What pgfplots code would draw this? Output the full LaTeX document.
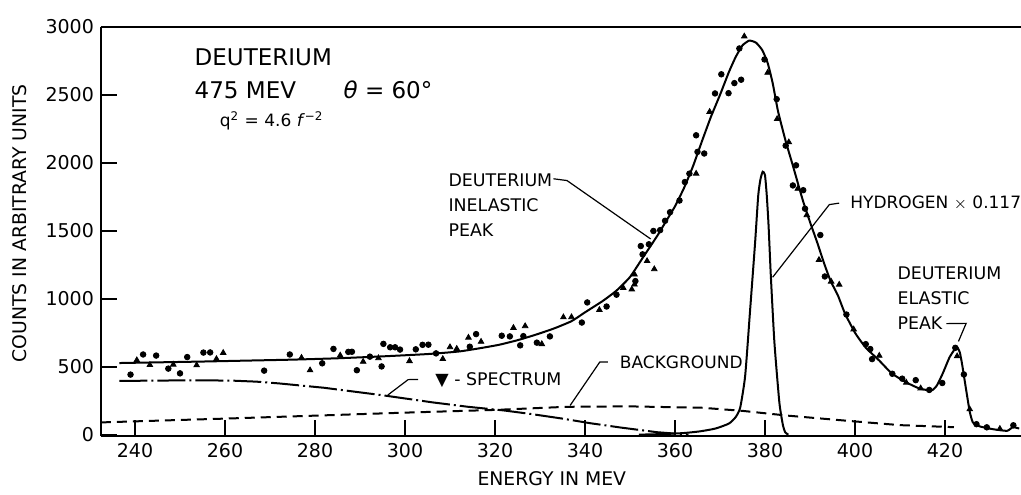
\documentclass[border=0pt]{standalone}
\usepackage{fontspec}
\setmainfont{DejaVu Sans}
\usepackage{pgfplots}
\usepackage{pgfplotstable}
\pgfplotsset{compat=1.18}

\pgfplotstableread{
x y
236.5 527
245 532
255 538
265 545
275 552
285 562
295 576
305 593
312 612
317 638
321 662
325 695
329 735
333 780
337 835
340 900
344 985
347 1060
350 1160
353 1310
356 1460
358 1570
360 1680
362 1815
364 1975
366 2160
368 2340
370 2500
372 2670
373.5 2780
375 2865
376.5 2900
378 2885
379.4 2830
380.6 2735
381.7 2589
382.9 2380
384.6 2160
386.2 1980
387.4 1840
388.5 1715
390 1565
391.6 1415
393.2 1255
394.6 1130
396.2 1025
397.8 890
400.1 745
402.4 640
405.4 545
408.2 450
411.5 383
414.3 340
417 325
418.2 362
419.5 450
421 568
422.2 630
422.8 640
423.3 605
423.8 520
424.7 331
425.5 170
426.2 90
427.8 60
430.7 40
433.8 28
435.1 55
436.5 45
}\fitcurve

\pgfplotstableread{
x y
352 0
358 5
362 12
365.5 24
369 45
372 82
373.5 130
374.5 200
375.6 434
376.7 919
377.8 1411
378.5 1760
379.0 1880
379.5 1935
380.0 1910
380.4 1760
380.8 1537
381.3 1169
382.1 677
383.2 236
384.0 68
384.5 17
385.2 0
}\hydrogen

\pgfplotstableread{
x y
236.5 395
245 398
255 400
262 397
267 390
272 377
282 345
295 290
306 238
314 205
322 178
328 152
335 118
341 85
348 52
356 18
363 0
}\spectrum

\pgfplotstableread{
x y
232.4 90
250 108
260 118
282 142
300 162
320 182
336 205
350 208
366 198
375 175
385 140
399 100
410 70
422 55
}\background

\pgfplotstableread{
x y
239.0 442
241.8 590
244.7 582
247.4 486
250.0 451
251.6 571
255.2 604
256.7 605
268.7 471
274.4 590
281.6 525
284.1 631
287.4 609
288.2 610
289.3 474
292.2 574
295.2 668
296.7 643
297.8 643
298.9 626
294.8 502
302.4 628
303.9 661
305.2 662
306.9 598
314.4 647
315.8 740
321.5 728
323.3 723
325.6 657
326.3 725
329.3 677
332.2 723
339.3 825
340.5 973
344.8 943
347.0 1030
351.2 1130
352.4 1388
352.8 1327
354.2 1401
355.2 1499
356.7 1505
357.8 1574
358.9 1637
361.0 1723
362.2 1859
363.2 1921
365.0 2081
366.5 2069
364.7 2203
368.9 2511
370.3 2652
371.9 2513
373.2 2587
374.7 2612
374.3 2842
379.9 2761
382.6 2469
384.6 2127
386.9 1982
386.2 1834
388.5 1799
388.9 1663
392.3 1469
393.3 1164
398.1 884
403.4 630
403.8 556
402.4 666
408.3 448
410.5 412
413.5 401
416.5 329
419.4 380
422.3 639
424.2 443
427.0 77
429.3 54
435.2 69
}\circles

\pgfplotstableread{
x y
240.4 548
243.3 513
248.5 516
253.7 511
259.6 602
258.1 557
277.0 566
278.9 474
285.6 583
290.7 537
294.1 563
301.0 542
308.4 557
310.0 644
311.5 632
314.1 714
316.9 684
324.1 786
326.7 799
330.4 667
335.2 864
337.0 865
343.2 918
348.5 1080
350.4 1069
351.0 1179
351.0 1105
353.8 1278
355.4 1218
364.7 1921
367.7 2376
375.4 2931
380.6 2664
382.7 2323
385.3 2152
387.3 1810
389.3 1616
392.0 1286
394.7 1127
396.5 1104
399.7 775
405.4 581
411.4 383
414.6 341
422.7 577
425.5 187
432.2 43
}\triangles

\begin{document}
\begin{tikzpicture}
\begin{axis}[
  scale only axis, width=460pt, height=204.5pt,
  xmin=232.44, xmax=436.9, ymin=-10, ymax=3000,
  axis x line=box, axis y line=left,
  axis line style={-, line width=1.3pt, black},
  xtick={240,260,...,420}, ytick={0,500,...,3000},
  xtick pos=left, ytick pos=left, tick align=inside,
  major tick length=8pt,
  major tick style={draw=black, line width=1.1pt},
  ticklabel style={font=\fontsize{9.5}{10}\selectfont},
  /pgf/number format/assume math mode=true,
  /pgf/number format/1000 sep={},
  scaled ticks=false,
  clip=false,
]
\coordinate (SW) at (rel axis cs:0,0);
\coordinate (NE) at (rel axis cs:1,1);

\addplot[black, line width=1pt, dash pattern=on 5pt off 3pt] table {\background};
\addplot[black, line width=1pt, dash pattern=on 14pt off 2pt on 1pt off 2pt] table {\spectrum};
\addplot[black, line width=1pt, smooth, tension=0.35] table {\hydrogen};
\addplot[black, line width=1pt, smooth, tension=0.3] table {\fitcurve};
\addplot[only marks, mark=*, mark size=1.4pt, black] table {\circles};
\addplot[only marks, mark=triangle*, mark size=1.6pt, black] table {\triangles};

% tick marks drawn inward, as in the original
\draw[line width=1.1pt] (axis cs:240,-10) -- (axis cs:240,100)
  (axis cs:260,-10) -- (axis cs:260,100)
  (axis cs:280,-10) -- (axis cs:280,100)
  (axis cs:300,-10) -- (axis cs:300,100)
  (axis cs:320,-10) -- (axis cs:320,100)
  (axis cs:340,-10) -- (axis cs:340,100)
  (axis cs:360,-10) -- (axis cs:360,100)
  (axis cs:380,-10) -- (axis cs:380,100)
  (axis cs:400,-10) -- (axis cs:400,100)
  (axis cs:420,-10) -- (axis cs:420,100)
  (axis cs:232.44,500) -- (axis cs:236.0,500)
  (axis cs:232.44,1000) -- (axis cs:236.0,1000)
  (axis cs:232.44,1500) -- (axis cs:236.0,1500)
  (axis cs:232.44,2000) -- (axis cs:236.0,2000)
  (axis cs:232.44,2500) -- (axis cs:236.0,2500);

% header text
\node[anchor=west, font=\fontsize{11.5}{12}\selectfont] at (axis cs:251.7,2777) {DEUTERIUM};
\node[anchor=west, font=\fontsize{11.5}{12}\selectfont] at (axis cs:251.7,2534) {475 MEV};
\node[anchor=west, font=\fontsize{11.5}{12}\selectfont] at (axis cs:284.8,2534) {\textit{θ} = 60°};
\node[anchor=west, font=\fontsize{8.5}{9}\selectfont] at (axis cs:257.3,2309) {q\textsuperscript{2} = 4.6 \textit{f}\textsuperscript{−2}};

% annotations
\node[anchor=west, align=left, font=\fontsize{8.7}{12.5}\selectfont] at (axis cs:308.1,1686) {DEUTERIUM\\INELASTIC\\PEAK};
\draw[line width=0.6pt] (axis cs:333.0,1883) -- (axis cs:336.0,1870) -- (axis cs:354.6,1440);

\node[anchor=west, font=\fontsize{8.5}{9}\selectfont] at (axis cs:397.4,1702) {HYDROGEN $\times$ 0.117};
\draw[line width=0.6pt] (axis cs:396.5,1704) -- (axis cs:394.3,1693) -- (axis cs:381.7,1158);

\node[anchor=west, align=left, font=\fontsize{8.7}{12.5}\selectfont] at (axis cs:407.9,1002) {DEUTERIUM\\ELASTIC\\PEAK};
\draw[line width=0.6pt] (axis cs:420.3,817) -- (axis cs:424.7,819) -- (axis cs:423.0,686);

\node[anchor=west, font=\fontsize{8.5}{9}\selectfont] at (axis cs:346.2,536) {BACKGROUND};
\draw[line width=0.6pt] (axis cs:345.1,535) -- (axis cs:343.3,535) -- (axis cs:336.7,215);

\node[anchor=west, font=\fontsize{8.7}{9}\selectfont] at (axis cs:305.2,400) {▼ - SPECTRUM};
\draw[line width=0.6pt] (axis cs:302.9,406) -- (axis cs:300.7,405) -- (axis cs:296.2,292);

% axis labels
\node[rotate=90, font=\fontsize{9.4}{10}\selectfont] at ([xshift=-40.5pt]rel axis cs:0,0.52) {COUNTS IN ARBITRARY UNITS};
\node[font=\fontsize{9.4}{10}\selectfont] at ([yshift=-21.5pt]rel axis cs:0.49,0) {ENERGY IN MEV};
\end{axis}
\pgfresetboundingbox
\path[use as bounding box] ([shift={(-50.5pt,-29pt)}]SW) rectangle ([shift={(0pt,13.5pt)}]NE);
\end{tikzpicture}
\end{document}
